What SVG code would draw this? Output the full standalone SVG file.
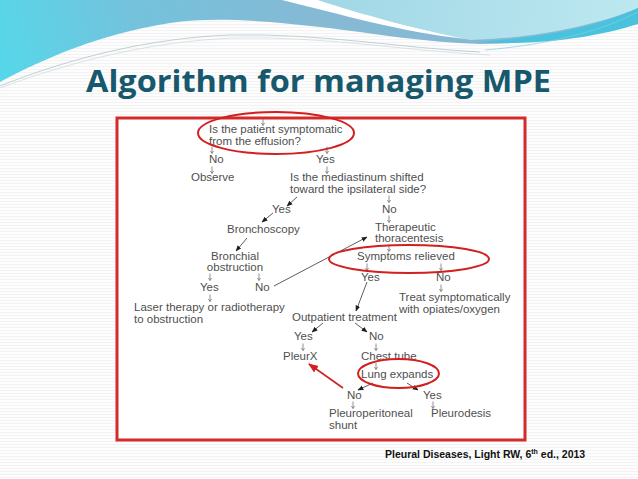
<svg xmlns="http://www.w3.org/2000/svg" xmlns:xlink="http://www.w3.org/1999/xlink" width="638" height="479" viewBox="0 0 638 479">
<style>
.t{font-family:"Liberation Sans",Arial,Helvetica,sans-serif;font-size:11.5px;fill:#4f4f4f}
.m{text-anchor:middle}
.ln{fill:none;stroke:#333;stroke-width:0.8}
.sl{fill:none;stroke:#777;stroke-width:0.8}
.oval{fill:none;stroke:#d21f1f;stroke-width:2}
.title{font-family:"Open Sans","Liberation Sans",sans-serif;font-weight:700;font-size:30px;fill:#17586d}
.cite{font-family:"Liberation Sans",Arial,sans-serif;font-weight:700;font-size:10.5px;fill:#111}
</style>
<defs>
<linearGradient id="gMain" x1="0" y1="90" x2="320" y2="0" gradientUnits="userSpaceOnUse">
<stop offset="0" stop-color="#55d8ea"/>
<stop offset="0.45" stop-color="#74c2dc"/>
<stop offset="1" stop-color="#86b9d4"/>
</linearGradient>
<linearGradient id="gLight" x1="300" y1="0" x2="638" y2="40" gradientUnits="userSpaceOnUse">
<stop offset="0" stop-color="#9fd6e6"/>
<stop offset="1" stop-color="#bde8f0"/>
</linearGradient>
<pattern id="stripe" width="4" height="3" patternUnits="userSpaceOnUse">
<rect width="4" height="3" fill="#fdfdfd"/>
<rect width="4" height="1" fill="#f3f3f3"/>
</pattern>
<marker id="ah" viewBox="0 0 10 10" refX="9" refY="5" markerWidth="6" markerHeight="6" orient="auto" markerUnits="userSpaceOnUse">
<path d="M0,1 L10,5 L0,9 Z" fill="#1e1e1e"/>
</marker>
<marker id="ahr" viewBox="0 0 10 10" refX="9" refY="5" markerWidth="10" markerHeight="10" orient="auto" markerUnits="userSpaceOnUse">
<path d="M0,1 L10,5 L0,9 Z" fill="#d21f1f"/>
</marker>
<path id="dn" d="M0,-3.5 V3.5 M-1.6,1 L0,3.5 L1.6,1" class="sl"/>
</defs>

<!-- background -->
<rect width="638" height="479" fill="url(#stripe)"/>
<g id="header-waves">
<path d="M0,0 H638 V22 C600,34 540,44 480,44 C420,42 380,34 320,27 C260,20 210,17 170,23 C100,34 45,58 0,82 Z" fill="url(#gMain)"/>
<path d="M300,0 H638 V8 C600,24 540,38 470,40 C420,30 360,14 318,0 Z" fill="url(#gLight)"/>
<path d="M282,0 H318 C360,14 420,30 466,39 C400,32 340,14 282,0 Z" fill="#ffffff"/>
<path d="M638,8 C600,26 545,38 475,42 C545,46 600,36 638,24 Z" fill="#49c2de"/>
<path d="M0,86 C70,58 150,38 230,35 C320,33 400,48 480,52" fill="none" stroke="#a9bcc4" stroke-width="0.7"/>
<path d="M0,88 C75,60 155,41 235,38 C325,36 405,51 490,55" fill="none" stroke="#c5d2d7" stroke-width="0.6"/>
<path d="M638,12 C600,32 545,45 485,50" fill="none" stroke="#7fcde0" stroke-width="0.7"/>
</g>

<text class="title" x="86" y="92" textLength="465" lengthAdjust="spacingAndGlyphs">Algorithm for managing MPE</text>

<!-- frame -->
<rect x="117" y="118" width="408" height="322" fill="#ffffff" stroke="#d52a2a" stroke-width="3"/>

<!-- connectors -->
<g id="connectors">
<use href="#dn" x="263" y="122"/>
<use href="#dn" x="212" y="150"/>
<use href="#dn" x="212" y="170"/>
<use href="#dn" x="327" y="150"/>
<use href="#dn" x="327" y="170"/>
<use href="#dn" x="389" y="199"/>
<use href="#dn" x="389" y="219"/>
<use href="#dn" x="389" y="248"/>
<use href="#dn" x="367" y="267"/>
<use href="#dn" x="441" y="267"/>
<use href="#dn" x="441" y="288"/>
<use href="#dn" x="210" y="277"/>
<use href="#dn" x="259" y="277"/>
<use href="#dn" x="210" y="298"/>
<use href="#dn" x="303" y="347"/>
<use href="#dn" x="376" y="347"/>
<use href="#dn" x="376" y="366"/>
<use href="#dn" x="353" y="405"/>
<use href="#dn" x="433" y="405"/>
<path class="ln" d="M297,197 L287,206" marker-end="url(#ah)"/>
<path class="ln" d="M273,213 L262,222" marker-end="url(#ah)"/>
<path class="ln" d="M247,238 L236,251" marker-end="url(#ah)"/>
<path class="ln" d="M274,286 L367,237" stroke="#555" marker-end="url(#ah)"/>
<path class="ln" d="M367,282 L356,311" marker-end="url(#ah)"/>
<path class="ln" d="M323,323 L312,332" marker-end="url(#ah)"/>
<path class="ln" d="M355,323 L367,332" marker-end="url(#ah)"/>
<path class="ln" d="M373,383 L358,390" marker-end="url(#ah)"/>
<path class="ln" d="M407,383 L418,390" marker-end="url(#ah)"/>
<path d="M343,388 L309,364" fill="none" stroke="#d21f1f" stroke-width="1.6" marker-end="url(#ahr)"/>
</g>

<!-- nodes -->
<g id="q-symptomatic"><text class="t" x="209" y="133">Is the patient symptomatic</text><text class="t" x="209" y="145">from the effusion?</text></g>
<g id="no1"><text class="t" x="209" y="163">No</text></g>
<g id="observe"><text class="t" x="191" y="181">Observe</text></g>
<g id="yes1"><text class="t" x="316" y="163">Yes</text></g>
<g id="q-mediastinum"><text class="t" x="290" y="181">Is the mediastinum shifted</text><text class="t" x="290" y="193">toward the ipsilateral side?</text></g>
<g id="yes2"><text class="t" x="272" y="213">Yes</text></g>
<g id="bronchoscopy"><text class="t" x="227" y="233">Bronchoscopy</text></g>
<g id="bronchial-obstruction"><text class="t m" x="235" y="260">Bronchial</text><text class="t m" x="235" y="271">obstruction</text></g>
<g id="yes3"><text class="t" x="200" y="291">Yes</text></g>
<g id="no3"><text class="t" x="255" y="291">No</text></g>
<g id="laser"><text class="t" x="134" y="311">Laser therapy or radiotherapy</text><text class="t" x="134" y="323">to obstruction</text></g>
<g id="no2"><text class="t" x="382" y="213">No</text></g>
<g id="thoracentesis"><text class="t" x="375" y="231">Therapeutic</text><text class="t" x="375" y="242">thoracentesis</text></g>
<g id="symptoms-relieved"><text class="t" x="357" y="260">Symptoms relieved</text></g>
<g id="yes4"><text class="t" x="361" y="281">Yes</text></g>
<g id="no4"><text class="t" x="436" y="281">No</text></g>
<g id="treat"><text class="t" x="399" y="301">Treat symptomatically</text><text class="t" x="399" y="313">with opiates/oxygen</text></g>
<g id="outpatient"><text class="t" x="292" y="321">Outpatient treatment</text></g>
<g id="yes5"><text class="t" x="294" y="340">Yes</text></g>
<g id="no5"><text class="t" x="369" y="340">No</text></g>
<g id="pleurx"><text class="t" x="283" y="360">PleurX</text></g>
<g id="chest-tube"><text class="t" x="361" y="360">Chest tube</text></g>
<g id="lung-expands"><text class="t" x="361" y="378">Lung expands</text></g>
<g id="no6"><text class="t" x="347" y="399">No</text></g>
<g id="yes6"><text class="t" x="423" y="399">Yes</text></g>
<g id="shunt"><text class="t" x="329" y="417">Pleuroperitoneal</text><text class="t" x="329" y="429">shunt</text></g>
<g id="pleurodesis"><text class="t" x="431" y="417">Pleurodesis</text></g>

<!-- highlight ovals -->
<g id="highlights">
<ellipse class="oval" cx="276" cy="133" rx="78" ry="21"/>
<ellipse class="oval" cx="409" cy="259" rx="80" ry="14"/>
<ellipse class="oval" cx="398.5" cy="373.5" rx="40.5" ry="14.5"/>
</g>

<text class="cite" x="385" y="458">Pleural Diseases, Light RW, 6<tspan font-size="7" dy="-4">th</tspan><tspan dy="4"> ed., 2013</tspan></text>
</svg>
